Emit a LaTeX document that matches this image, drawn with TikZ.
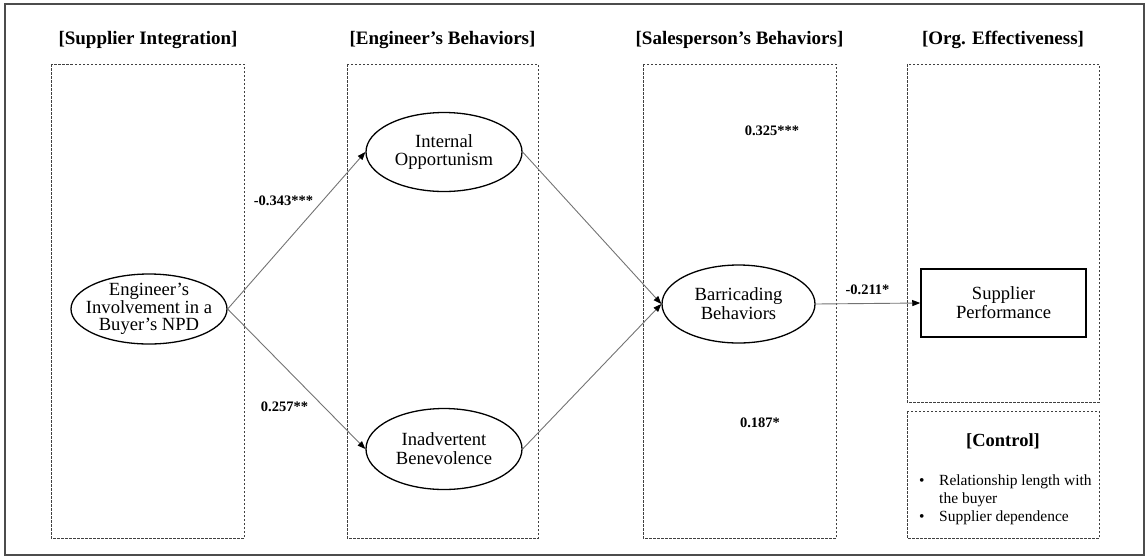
\documentclass[tikz,border=0pt]{standalone}
\usepackage{fontspec}
\setmainfont{Liberation Serif}
\usetikzlibrary{shapes.geometric,arrows.meta}
\begin{document}
\begin{tikzpicture}[x=1pt,y=-1pt,
  outerframe/.style={draw=black!70, line width=1.2pt},
  panel/.style={draw=black!75, line width=0.8pt, dash pattern=on 2.5pt off 1.5pt},
  heading/.style={font=\fontsize{19}{22}\selectfont\bfseries, inner sep=0pt},
  construct/.style={ellipse, draw=black, line width=1.3pt, minimum width=156pt, minimum height=79pt, inner sep=0pt},
  ctext/.style={align=center, inner sep=0pt, font=\fontsize{18.6}{18.8}\selectfont},
  indicator/.style={rectangle, draw=black, line width=1.5pt, minimum width=165pt, minimum height=68pt, inner sep=0pt, align=center, font=\fontsize{18.6}{18.8}\selectfont},
  link/.style={draw=black!55, line width=0.9pt, -{Triangle[length=8pt,width=6pt,color=black]}},
  coef/.style={font=\fontsize{14.5}{17}\selectfont\bfseries, inner sep=0pt},
  bullettext/.style={font=\fontsize{15.5}{18}\selectfont, inner sep=0pt, anchor=base west},
]
\useasboundingbox (0,0) rectangle (1146,558);
\draw[outerframe] (5,4) rectangle (1144,555);

% dashed panels
\draw[panel] (51,64) rectangle (244,538);
\draw[panel] (347,64) rectangle (538,538);
\draw[panel] (643,64) rectangle (836,538);
\draw[panel] (907,64) rectangle (1099,402);
\draw[panel] (907,411) rectangle (1099,538);

% panel headings
\node[heading] (h1) at (148,40) {[Supplier Integration]};
\node[heading] (h2) at (442.5,40) {[Engineer’s Behaviors]};
\node[heading] (h3) at (739.5,40) {[Salesperson’s Behaviors]};
\node[heading] (h4) at (1003,40) {[Org. Effectiveness]};

% constructs
\node[construct, minimum height=70pt] (eng) at (149,309) {};
\node[ctext, font=\fontsize{18.6}{16.5}\selectfont] (engtext) at (eng) {Engineer’s\\Involvement in a\\Buyer’s NPD};
\node[construct] (opp) at (444,152) {};
\node[ctext] (opptext) at (opp) {Internal\\Opportunism};
\node[construct, minimum height=81pt] (ben) at (444,449) {};
\node[ctext] (bentext) at (ben) {Inadvertent\\Benevolence};
\node[construct, minimum width=153pt, minimum height=78pt] (bar) at (738.5,304) {};
\node[ctext] (bartext) at (bar) {Barricading\\Behaviors};
\node[indicator] (perf) at (1003.5,303) {Supplier\\Performance};

% structural paths
\draw[link] (eng.east) -- (opp.west);
\draw[link] (eng.east) -- (ben.west);
\draw[link] (opp.east) -- (bar.west);
\draw[link] (ben.east) -- (bar.west);
\draw[link] (bar.east) -- (perf.west);

% path coefficients
\node[coef] (c1) at (283.5,201) {-0.343***};
\node[coef] (c2) at (284.5,407) {0.257**};
\node[coef] (c3) at (772,131) {0.325***};
\node[coef] (c4) at (760,423) {0.187*};
\node[coef] (c5) at (867.5,290) {-0.211*};

% control variables
\node[heading, font=\fontsize{18.5}{22}\selectfont\bfseries] (ctrl) at (1003,441) {[Control]};
\node[bullettext] (b1) at (919,485) {•};
\node[bullettext] (t1) at (939,485) {Relationship length with};
\node[bullettext] (t1b) at (939,503) {the buyer};
\node[bullettext] (b2) at (919,521) {•};
\node[bullettext] (t2) at (939,521) {Supplier dependence};
\end{tikzpicture}
\end{document}
